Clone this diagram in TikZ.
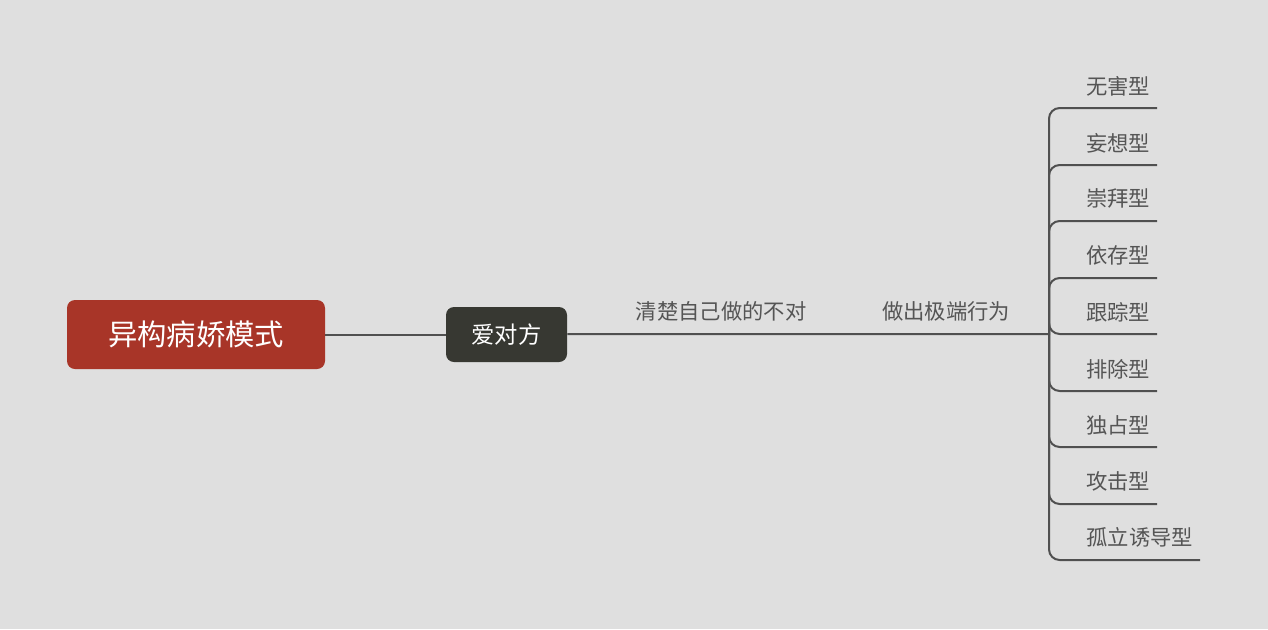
\documentclass[tikz,border=0pt]{standalone}
\usepackage{fontspec}
\newfontfamily\cjk{Noto Sans CJK SC}
\usetikzlibrary{positioning}
\definecolor{bgcol}{RGB}{223,223,223}
\definecolor{rootred}{RGB}{168,53,40}
\definecolor{darkbox}{RGB}{55,56,50}
\definecolor{linecol}{RGB}{80,80,80}
\definecolor{textcol}{RGB}{85,85,85}

\begin{document}
\begin{tikzpicture}[x=0.75pt,y=-0.75pt,
  rootbox/.style={fill=rootred, rounded corners=6pt, minimum width=193.5pt, minimum height=51.75pt,
    text=white, font=\cjk\fontsize{22}{26}\selectfont},
  branchbox/.style={fill=darkbox, rounded corners=6pt, minimum width=90.75pt, minimum height=41.25pt,
    text=white, font=\cjk\fontsize{17.5}{20}\selectfont},
  uline/.style={anchor=south, inner xsep=15pt, inner ysep=9pt, text=textcol,
    font=\cjk\fontsize{16}{19}\selectfont},
  leaf/.style={anchor=south east, inner xsep=5pt, inner ysep=9pt, text=textcol,
    font=\cjk\fontsize{16}{19}\selectfont},
  link/.style={draw=linecol, line width=1.5pt}]

% background and page size
\fill [bgcol] (0,0) rectangle (1268,629);
\useasboundingbox (0,0) rectangle (1268,629);

% to write main topics
\node [rootbox] (root) at (196,334.5) {异构病娇模式};
\node [branchbox] (love) at (506.5,334.5) {爱对方};

% underlined topics on the main line
\node [uline] (know) at (721,334) {清楚自己做的不对};
\node [uline] (act) at (946,334) {做出极端行为};
\coordinate (hub) at (1049,334);

% to write the types
\node [leaf] (l1) at (1157,108) {无害型};
\node [leaf] (l2) at (1157,165) {妄想型};
\node [leaf] (l3) at (1157,221) {崇拜型};
\node [leaf] (l4) at (1157,278) {依存型};
\node [leaf] (l5) at (1157,334) {跟踪型};
\node [leaf] (l6) at (1157,391) {排除型};
\node [leaf] (l7) at (1157,447) {独占型};
\node [leaf] (l8) at (1157,504) {攻击型};
\node [leaf] (l9) at (1200,560) {孤立诱导型};

% to draw the connectors
\draw [link] (root) -- (love);
\draw [link] (love) -- (know.south west) -- (know.south east) -- (act.south west) -- (act.south east) -- (hub);
\foreach \i in {1,...,9}
  \draw [link, rounded corners=8pt] (hub) |- (l\i.south east);
\end{tikzpicture}
\end{document}
